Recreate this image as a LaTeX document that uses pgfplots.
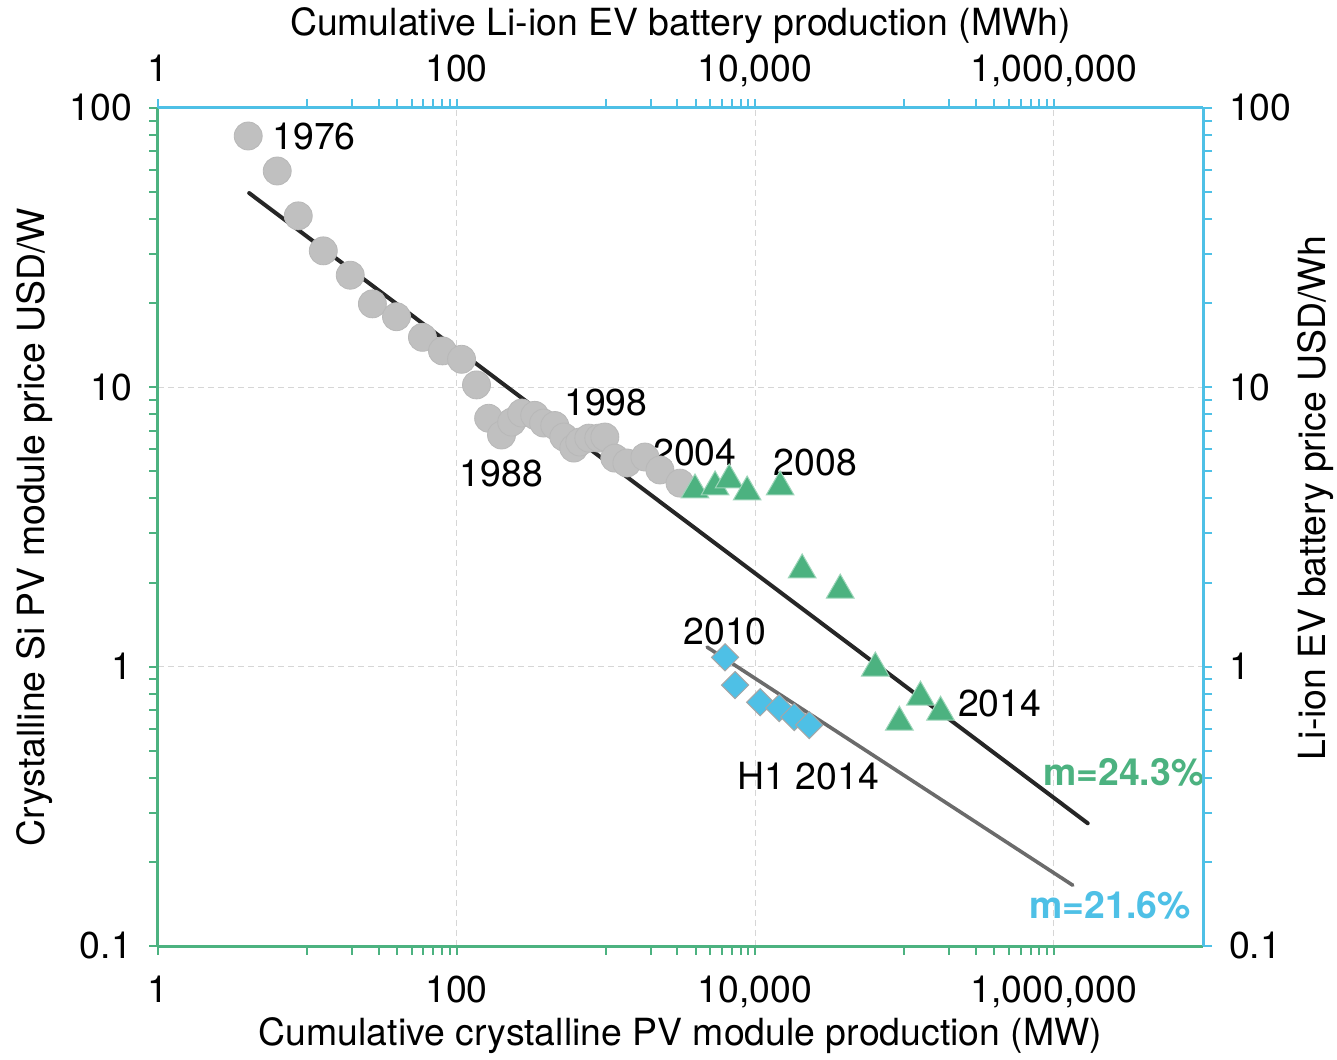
\documentclass[border=0pt]{standalone}
\usepackage{pgfplots}
\pgfplotsset{compat=1.18}
\usepackage{fontspec}
\setmainfont{TeX Gyre Heros}
\definecolor{pvgreen}{RGB}{76,178,128}
\definecolor{evcyan}{RGB}{78,192,230}
\definecolor{dotgray}{RGB}{192,192,192}

\begin{document}
\begin{tikzpicture}
\begin{axis}[
  xmode=log, ymode=log, xmin=1, xmax=1e7, ymin=0.1, ymax=100,
  scale only axis, width=522.5pt, height=419pt,
  font=\fontsize{18.7}{22}\selectfont,
  xtick={1,100,10000,1000000},
  xticklabels={1,100,{10,000},{1,000,000}},
  ytick={0.1,1,10,100},
  yticklabels={0.1,1,10,100},
  minor xtick={10,20,30,40,50,60,70,80,90,1000,2000,3000,4000,5000,6000,7000,8000,9000,1e5,2e5,3e5,4e5,5e5,6e5,7e5,8e5,9e5},
  minor ytick={0.2,0.3,0.4,0.5,0.6,0.7,0.8,0.9,2,3,4,5,6,7,8,9,20,30,40,50,60,70,80,90},
  tick align=outside,
  major tick length=4.5pt, minor tick length=4.5pt,
  enlargelimits=false,
  clip=false,
  axis x line*=bottom, axis y line*=left,
  axis line style={draw=pvgreen, line width=1.5pt},
  tick style={pvgreen, line width=1pt},
  tick label style={black},
  xticklabel style={text height=0.72em, text depth=0.22em},
  xticklabel shift=13pt, yticklabel shift=5pt,
  xmajorgrids, ymajorgrids,
  grid style={densely dashed, black!16, line width=0.5pt},
  xlabel={Cumulative crystalline PV module production (MW)},
  ylabel={Crystalline Si PV module price USD/W},
  xlabel style={at={(axis description cs:0.5,-0.1074)}, anchor=center},
  ylabel style={at={(axis description cs:-0.1177,0.5)}, anchor=center},
]
\coordinate (BL) at (rel axis cs:0,0);
\coordinate (TR) at (rel axis cs:1,1);
% fit lines
\addplot[line width=2pt, color=black!85, line cap=round, no marks] coordinates {(4.08,49.6) (1.69e6,0.275)};
\addplot[line width=1.8pt, color=black!58, line cap=round, no marks] coordinates {(4764,1.175) (1.342e6,0.165)};
% crystalline PV modules
\addplot[only marks, mark=*, mark size=7pt, mark options={fill=dotgray, draw=black!28, line width=0.4pt}] coordinates {
(4.02,79.4) (6.29,59.5) (8.70,41.1) (12.8,30.8) (19.4,25.2) (27.3,19.9) (39.6,17.9)
(59.1,15.1) (80.5,13.5) (108,12.6) (136,10.2) (164,7.75) (200,6.75) (234,7.51)
(273,8.09) (334,7.94) (383,7.45) (455,7.3) (523,6.64) (610,6.06) (669,6.37)
(769,6.58) (897,6.58) (985,6.64) (1148,5.58) (1383,5.36) (1827,5.63) (2303,5.06) (3139,4.54)
};
% Li-ion EV battery (green triangles)
\addplot[only marks, mark=triangle*, mark size=8pt, mark options={fill=pvgreen, draw=pvgreen!55!white, line width=0.5pt}] coordinates {
(3956,4.29) (5390,4.40) (6700,4.66) (8840,4.22) (14700,4.40) (20650,2.22) (37150,1.88)
(63830,0.989) (92500,0.633) (128000,0.778) (174500,0.687)
};
% PV modules 2010-H1 2014 (cyan diamonds)
\addplot[only marks, mark=square*, mark size=4.8pt, mark options={rotate=45, fill=evcyan, draw=black!35, line width=0.5pt}] coordinates {
(6290,1.08) (7340,0.859) (10810,0.746) (14490,0.711) (18270,0.660) (23020,0.618)
};
\node at (axis cs:11.1,79) {1976};
\node at (axis cs:1000,8.79) {1998};
\node at (axis cs:200,4.9) {1988};
\node at (axis cs:3955,5.86) {2004};
\node at (axis cs:25290,5.40) {2008};
\node at (axis cs:6290,1.34) {2010};
\node at (axis cs:434400,0.741) {2014};
\node at (axis cs:22700,0.406) {H1 2014};
\node[text=pvgreen] at (axis cs:2.95e6,0.42) {\textbf{m=24.3\%}};
\node[text=evcyan] at (axis cs:2.38e6,0.14) {\textbf{m=21.6\%}};
\end{axis}
\begin{axis}[
  xmode=log, ymode=log, xmin=1, xmax=1e7, ymin=0.1, ymax=100,
  scale only axis, width=522.5pt, height=419pt,
  font=\fontsize{18.7}{22}\selectfont,
  xtick={1,100,10000,1000000},
  xticklabels={1,100,{10,000},{1,000,000}},
  ytick={0.1,1,10,100},
  yticklabels={0.1,1,10,100},
  minor xtick={10,20,30,40,50,60,70,80,90,1000,2000,3000,4000,5000,6000,7000,8000,9000,1e5,2e5,3e5,4e5,5e5,6e5,7e5,8e5,9e5},
  minor ytick={0.2,0.3,0.4,0.5,0.6,0.7,0.8,0.9,2,3,4,5,6,7,8,9,20,30,40,50,60,70,80,90},
  tick align=outside,
  major tick length=4.5pt, minor tick length=4.5pt,
  enlargelimits=false,
  axis x line*=top, axis y line*=right,
  axis line style={draw=evcyan, line width=1.5pt},
  tick style={evcyan, line width=1pt},
  tick label style={black},
  xticklabel style={text height=0.72em, text depth=0.22em},
  xticklabel shift=3pt, yticklabel shift=5pt,
  xlabel={Cumulative Li-ion EV battery production (MWh)},
  ylabel={Li-ion EV battery price USD/Wh},
  xlabel style={at={(axis description cs:0.5,1.098)}, anchor=center},
  ylabel style={at={(axis description cs:1.108,0.5346)}, anchor=center},
]
\addplot[draw=none, forget plot] coordinates {(1,1)};
\end{axis}
\pgfresetboundingbox
\path[use as bounding box] ([shift={(-79pt,-56.5pt)}]BL) rectangle ([shift={(67pt,54pt)}]TR);
\end{tikzpicture}
\end{document}
